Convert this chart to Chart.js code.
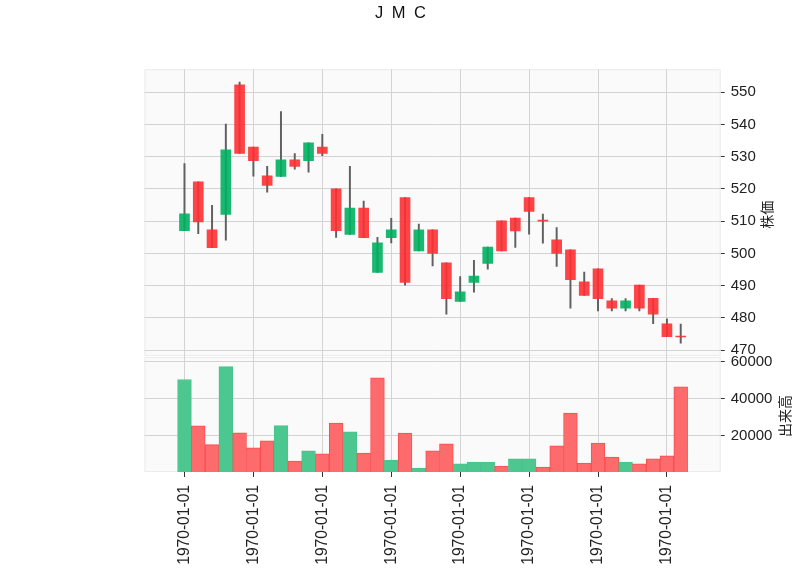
<!DOCTYPE html>
<html>
<head>
<meta charset="utf-8">
<script src="https://cdn.jsdelivr.net/npm/chart.js@4.4.1/dist/chart.umd.min.js"></script>
<style>
html,body{margin:0;padding:0;background:#ffffff;}
#wrap{position:relative;width:800px;height:575px;}
</style>
</head>
<body>
<div id="wrap"><canvas id="c" width="800" height="575"></canvas></div>
<script>
// ---- data ----
const chartTitle = 'J M C';
const priceLabel = '株価';
const volumeLabel = '出来高';
const opens  = [507.1,522.2,507.3,512.1,552.3,533.0,524.1,523.9,529.0,528.8,533.0,520.0,505.9,514.1,494.1,504.9,517.3,500.8,507.3,497.1,485.1,491.0,496.9,510.1,511.0,517.3,510.0,504.2,501.1,491.2,495.2,485.3,483.0,490.2,486.1,478.2,474.1];
const highs  = [527.9,522.2,514.9,540.1,553.1,533.0,527.0,544.0,531.0,534.3,536.9,520.0,527.0,516.2,505.0,510.9,517.3,509.1,507.3,497.1,492.8,497.9,502.0,510.1,511.0,517.3,512.2,508.0,501.1,494.2,495.2,486.0,486.0,490.2,486.1,479.7,478.1];
const lows   = [507.1,506.1,501.8,504.1,531.0,524.0,519.0,523.9,526.1,525.2,530.3,505.0,505.9,504.9,494.1,503.3,490.2,500.8,496.1,481.2,485.1,488.0,495.1,500.8,501.9,506.0,503.2,496.0,483.0,487.0,482.2,482.2,482.2,482.2,478.2,474.2,472.2];
const closes = [512.3,509.8,501.8,532.1,531.0,528.8,521.1,529.0,527.0,534.3,531.0,507.1,514.1,504.9,503.3,507.3,491.0,507.3,500.0,486.0,488.1,493.0,502.0,500.8,507.0,513.0,510.0,500.0,491.9,487.0,486.0,483.0,485.3,483.0,481.2,474.2,474.1];
const volumes = [50450,25500,15300,57400,21700,13600,17400,25600,6500,11900,10300,27000,22200,10800,51400,7000,21600,2700,11900,15700,4900,5900,5900,3800,7600,7600,3200,14600,32400,5400,16200,8600,5900,4900,7600,9200,46500];
const xTickPositions = [0,5,10,15,20,25,30,35];
const xTickLabels = ['1970-01-01','1970-01-01','1970-01-01','1970-01-01','1970-01-01','1970-01-01','1970-01-01','1970-01-01'];
const priceTicks = [470,480,490,500,510,520,530,540,550];
const volumeTicks = [20000,40000,60000];

// ---- styling ----
const UP = 'rgba(0,176,96,0.9)';
const DOWN = 'rgba(254,48,50,0.9)';
const VUP = '#4dc790';
const VDOWN = '#fd6b6c';
const GRID = '#d3d3d3';
const TXT = '#222222';
const tickFont = {family: '"Liberation Sans", Arial, sans-serif', size: 15};
const xTickFont = {family: '"Liberation Sans", Arial, sans-serif', size: 15.6};

const idx = closes.map((_, i) => i);
const bodyColors = idx.map(i => closes[i] > opens[i] ? UP : DOWN);
const volUp = idx.map(i => i === 0 ? closes[0] > opens[0] : closes[i] > closes[i - 1]);
const volColors = volUp.map(u => u ? VUP : VDOWN);
const volBorders = volUp.map(u => u ? '#47c48b' : '#fb4e50');

const panelPlugin = {
  id: 'panels',
  beforeDraw(chart) {
    const {ctx, chartArea} = chart;
    const yP = chart.scales.yP, yV = chart.scales.yV;
    ctx.save();
    ctx.fillStyle = '#fafafa';
    ctx.fillRect(chartArea.left, yP.top, chartArea.right - chartArea.left, yP.bottom - yP.top);
    ctx.fillRect(chartArea.left, yV.top + 1, chartArea.right - chartArea.left, yV.bottom - yV.top - 1);
    ctx.strokeStyle = '#ebebeb';
    ctx.lineWidth = 1;
    ctx.strokeRect(chartArea.left + 0.5, yP.top + 0.5, chartArea.right - chartArea.left - 1, yP.bottom - yP.top - 1);
    ctx.strokeRect(chartArea.left + 0.5, yV.top + 1.5, chartArea.right - chartArea.left - 1, yV.bottom - yV.top - 2);
    ctx.restore();
  },
  afterDraw(chart) {
    const {ctx} = chart;
    const yP = chart.scales.yP, yV = chart.scales.yV;
    ctx.save();
    ctx.fillStyle = '#111111';
    ctx.textAlign = 'center';
    ctx.textBaseline = 'alphabetic';
    ctx.font = '16.5px "Liberation Sans", Arial, sans-serif';
    if ('letterSpacing' in ctx) ctx.letterSpacing = '2px';
    ctx.fillText(chartTitle, 401.5, 17.5);
    if ('letterSpacing' in ctx) ctx.letterSpacing = '0px';
    ctx.fillStyle = TXT;
    ctx.font = '14px "Noto Sans CJK JP", sans-serif';
    ctx.textBaseline = 'middle';
    ctx.save();
    ctx.translate(766.5, (yP.top + yP.bottom) / 2 + 2);
    ctx.rotate(-Math.PI / 2);
    ctx.fillText(priceLabel, 0, 0);
    ctx.restore();
    ctx.save();
    ctx.translate(784.5, (yV.top + yV.bottom) / 2 + 2);
    ctx.rotate(-Math.PI / 2);
    ctx.fillText(volumeLabel, 0, 0);
    ctx.restore();
    ctx.restore();
  }
};

new Chart(document.getElementById('c'), {
  type: 'bar',
  data: {
    datasets: [
      {
        label: 'body',
        yAxisID: 'yP',
        data: idx.map(i => ({x: i, y: [opens[i], closes[i]]})),
        backgroundColor: bodyColors,
        borderWidth: 0,
        barThickness: 10,
        minBarLength: 1,
        grouped: false
      },
      {
        label: 'wick',
        yAxisID: 'yP',
        data: idx.map(i => ({x: i, y: [lows[i], highs[i]]})),
        backgroundColor: '#606060',
        borderWidth: 0,
        barThickness: 1.3,
        grouped: false
      },
      {
        label: 'volume',
        yAxisID: 'yV',
        data: idx.map(i => ({x: i, y: volumes[i]})),
        backgroundColor: volColors,
        borderColor: volBorders,
        borderWidth: 1,
        barPercentage: 1,
        categoryPercentage: 1,
        grouped: false
      }
    ]
  },
  options: {
    responsive: false,
    animation: false,
    events: [],
    layout: {padding: {top: 69.3, left: 144.5, right: 0, bottom: 0}},
    plugins: {legend: {display: false}, tooltip: {enabled: false}, title: {display: false}},
    scales: {
      x: {
        type: 'linear',
        position: 'bottom',
        min: -2.9,
        max: 38.9,
        offset: false,
        afterBuildTicks: s => { s.ticks = xTickPositions.map(v => ({value: v})); },
        afterFit: s => { s.height = 103; },
        ticks: {
          autoSkip: false,
          minRotation: 90,
          maxRotation: 90,
          padding: 8,
          color: TXT,
          font: xTickFont,
          callback: (v, i) => xTickLabels[i]
        },
        grid: {offset: false, color: GRID, lineWidth: 1, tickColor: '#333333', tickLength: 5},
        border: {display: false}
      },
      yP: {
        type: 'linear',
        position: 'right',
        stack: 'panels',
        stackWeight: 286.7,
        min: 468.2,
        max: 557.1,
        afterBuildTicks: s => { s.ticks = priceTicks.map(v => ({value: v})); },
        afterFit: s => { s.width = 79.3; },
        ticks: {padding: 6, color: TXT, font: tickFont, callback: v => String(v)},
        grid: {color: GRID, lineWidth: 1, tickColor: '#333333', tickLength: 4},
        border: {display: false}
      },
      yV: {
        type: 'linear',
        position: 'right',
        stack: 'panels',
        stackWeight: 116,
        min: 540,
        max: 63140,
        afterBuildTicks: s => { s.ticks = volumeTicks.map(v => ({value: v})); },
        afterFit: s => { s.width = 79.3; },
        ticks: {padding: 6, color: TXT, font: tickFont, callback: v => String(v)},
        grid: {color: GRID, lineWidth: 1, tickColor: '#333333', tickLength: 4},
        border: {display: false}
      }
    }
  },
  plugins: [panelPlugin]
});
</script>
</body>
</html>
